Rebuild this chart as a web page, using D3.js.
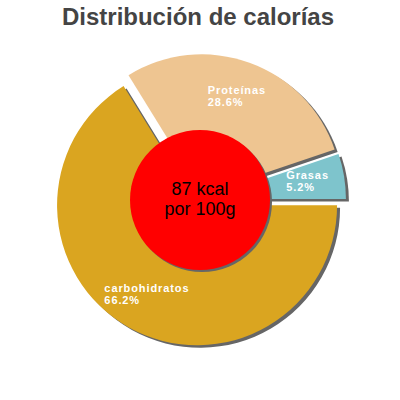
<!DOCTYPE html>
<html>
<head>
<meta charset="utf-8">
<script src="https://cdn.jsdelivr.net/npm/d3@7"></script>
<style>
  body { margin: 0; background: #fff; }
  svg { display: block; font-family: "Liberation Sans", Arial, sans-serif; }
</style>
</head>
<body>
<div id="chart"></div>
<script>
// data
const categorias = ["carbohidratos", "Proteínas", "Grasas"];
const porcentajes = [66.2, 28.6, 5.2];
const colores = ["#DAA520", "#EEC591", "#7EC4CC"];
const titulo = "Distribución de calorías";
const centroLineas = ["87 kcal", "por 100g"];

const width = 400, height = 400;
const cx = 200, cy = 200;
const radius = 140;
const explode = 6;
const labelDist = 103;
const shadowColor = "#666";

const svg = d3.select("#chart")
  .append("svg")
  .attr("width", width)
  .attr("height", height);

svg.append("text")
  .attr("x", 198)
  .attr("y", 25)
  .attr("text-anchor", "middle")
  .style("font-size", "24px")
  .style("font-weight", "bold")
  .style("fill", "#444")
  .text(titulo);

const pie = d3.pie()
  .sort(null)
  .startAngle(Math.PI / 2)
  .endAngle(Math.PI / 2 + 2 * Math.PI)
  .value(d => d);

const arc = d3.arc()
  .innerRadius(0)
  .outerRadius(radius);

const slices = pie(porcentajes).map((d, i) => {
  const mid = (d.startAngle + d.endAngle) / 2;
  return {
    arc: d,
    name: categorias[i],
    color: colores[i],
    value: porcentajes[i],
    mid: mid,
    dx: Math.sin(mid) * explode,
    dy: -Math.cos(mid) * explode
  };
});

const g = svg.append("g")
  .attr("transform", `translate(${cx},${cy})`);

// shadows first
g.selectAll("path.shadow")
  .data(slices)
  .enter()
    .append("path")
    .attr("class", "shadow")
    .attr("d", d => arc(d.arc))
    .attr("transform", d => `translate(${d.dx + 3},${d.dy + 2.5})`)
    .style("fill", shadowColor);

g.selectAll("path.slice")
  .data(slices)
  .enter()
    .append("path")
    .attr("class", "slice")
    .attr("d", d => arc(d.arc))
    .attr("transform", d => `translate(${d.dx},${d.dy})`)
    .style("fill", d => d.color);

// center circle
g.append("circle")
  .attr("cx", 2)
  .attr("cy", 2)
  .attr("r", 70)
  .style("fill", shadowColor);

g.append("circle")
  .attr("r", 70)
  .style("fill", "#FF0000");

const centro = g.append("text")
  .attr("text-anchor", "middle")
  .style("font-size", "18px")
  .style("fill", "#000");

centro.selectAll("tspan")
  .data(centroLineas)
  .enter()
    .append("tspan")
    .attr("x", 0)
    .attr("y", (d, i) => -5 + i * 20)
    .text(d => d);

// labels, one text per slice with two lines
const labels = g.selectAll("text.label")
  .data(slices)
  .enter()
    .append("text")
    .attr("class", "label")
    .style("font-size", "11px")
    .style("font-weight", "bold")
    .style("letter-spacing", "0.9px")
    .style("fill", "#fff");

labels.each(function (d) {
  const el = d3.select(this);
  const px = d.dx + Math.sin(d.mid) * labelDist;
  const py = d.dy - Math.cos(d.mid) * labelDist;
  const t1 = el.append("tspan").attr("y", py - 3.5).text(d.name);
  const t2 = el.append("tspan").attr("y", py + 9).text(d.value.toFixed(1) + "%");
  const w = Math.max(t1.node().getComputedTextLength(), t2.node().getComputedTextLength());
  t1.attr("x", px - w / 2);
  t2.attr("x", px - w / 2);
});
</script>
</body>
</html>
